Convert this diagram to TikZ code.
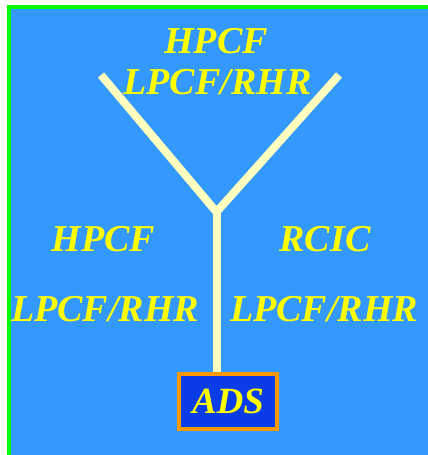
\documentclass[tikz,border=0pt]{standalone}
\usepackage{fontspec}
\setmainfont{Liberation Serif}
\definecolor{panelblue}{HTML}{3399FF}
\definecolor{framegreen}{HTML}{00FF00}
\definecolor{labelyellow}{HTML}{FFFF00}
\definecolor{pipeyellow}{HTML}{FFFFC0}
\definecolor{boxblue}{HTML}{0A3DE8}
\definecolor{boxorange}{HTML}{FF9900}
\begin{document}
\begin{tikzpicture}[x=1pt,y=-1pt,
  lbl/.style={text=labelyellow,font=\fontsize{38}{38}\selectfont\bfseries\itshape,
              anchor=base,inner sep=0pt},
  pipe/.style={draw=pipeyellow,line width=8pt},
  sysbox/.style={draw=boxorange,line width=4pt,fill=boxblue,minimum width=98pt,
                 minimum height=55pt,inner sep=0pt,text=labelyellow,
                 font=\fontsize{37}{37}\selectfont\bfseries\itshape}]
  \useasboundingbox (0,0) rectangle (428,455);
  % background with green frame on top and left
  \fill[white] (0,0) rectangle (428,455);
  \fill[framegreen] (7,5) rectangle (428,455);
  \fill[panelblue] (11,9) rectangle (428,455);

  % branching lines
  \coordinate (tl) at (101,75);
  \coordinate (tr) at (339,75);
  \coordinate (j) at (216.5,212);
  \node[sysbox] (ads) at (228,401.5) {ADS};
  \draw[pipe] (tl) -- (j) -- (tr);
  \draw[pipe] (j) -- (j |- ads.north);

  % labels
  \node[lbl] (t1) at (216,53) {HPCF};
  \node[lbl] (t2) at (217.5,94) {LPCF/RHR};
  \node[lbl] (l1) at (103.5,251) {HPCF};
  \node[lbl] (l2) at (105,321) {LPCF/RHR};
  \node[lbl] (r1) at (325,251) {RCIC};
  \node[lbl] (r2) at (324,321) {LPCF/RHR};
\end{tikzpicture}
\end{document}
